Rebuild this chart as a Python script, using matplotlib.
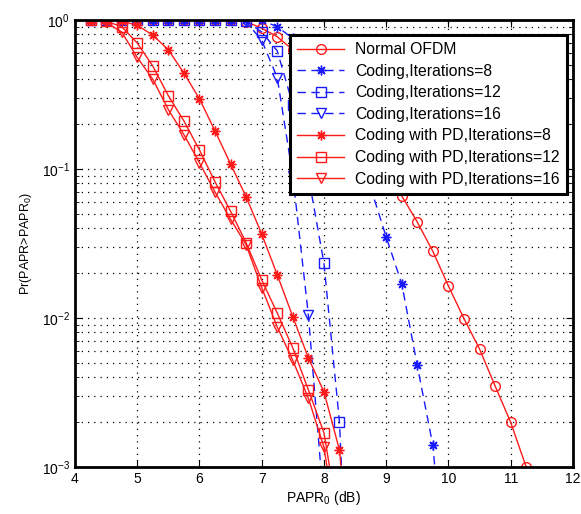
import numpy as np
import matplotlib
matplotlib.use("Agg")
import matplotlib.pyplot as plt
from matplotlib.ticker import LogLocator, NullFormatter

plt.rcParams['font.family'] = ['Liberation Sans', 'DejaVu Sans']
plt.rcParams['mathtext.fontset'] = 'custom'
plt.rcParams['mathtext.rm'] = 'Liberation Sans'

# PAPR0 grid in dB (0.25 dB steps) and CCDF values
x_normal = [4.25, 4.5, 4.75, 5.0, 5.25, 5.5, 5.75, 6.0, 6.25, 6.5, 6.75, 7.0, 7.25,
            7.5, 7.75, 8.0, 8.25, 8.5, 8.75, 9.0, 9.25, 9.5, 9.75, 10.0, 10.25,
            10.5, 10.75, 11.0, 11.25]
y_normal = [1, 1, 1, 1, 1, 1, 1, 1, 1, 0.995, 0.97, 0.88, 0.77,
            0.63, 0.48, 0.35, 0.25, 0.18, 0.13, 0.092, 0.066, 0.044, 0.028, 0.0164, 0.0099,
            0.0062, 0.0035, 0.002, 0.001]

x_c8 = [4.25, 4.5, 4.75, 5.0, 5.25, 5.5, 5.75, 6.0, 6.25, 6.5, 6.75, 7.0, 7.25,
        7.5, 7.75, 8.0, 8.25, 8.5, 8.75, 9.0, 9.25, 9.5, 9.75, 10.0]
y_c8 = [1, 1, 1, 1, 1, 1, 1, 1, 1, 1, 1, 0.99, 0.9,
        0.75, 0.55, 0.37, 0.22, 0.13, 0.075, 0.035, 0.017, 0.0048, 0.0014, 0.0001]

x_c12 = [4.25, 4.5, 4.75, 5.0, 5.25, 5.5, 5.75, 6.0, 6.25, 6.5, 6.75, 7.0, 7.25,
         7.5, 7.75, 8.0, 8.25, 8.5]
y_c12 = [1, 1, 1, 1, 1, 1, 1, 1, 1, 1, 0.98, 0.83, 0.62,
         0.27, 0.09, 0.0234, 0.002, 0.00001]

x_c16 = [4.25, 4.5, 4.75, 5.0, 5.25, 5.5, 5.75, 6.0, 6.25, 6.5, 6.75, 7.0, 7.25,
         7.5, 7.75, 8.0]
y_c16 = [1, 1, 1, 1, 1, 1, 1, 1, 1, 1, 0.97, 0.73, 0.41,
         0.09, 0.0105, 0.00055]

x_pd8 = [4.25, 4.5, 4.75, 5.0, 5.25, 5.5, 5.75, 6.0, 6.25, 6.5, 6.75, 7.0, 7.25,
         7.5, 7.75, 8.0, 8.25, 8.5]
y_pd8 = [1, 1, 0.98, 0.92, 0.79, 0.63, 0.44, 0.295, 0.18, 0.108, 0.065, 0.0366, 0.0195,
         0.0102, 0.0054, 0.0032, 0.0013, 0.0001]

x_pd12 = [4.25, 4.5, 4.75, 5.0, 5.25, 5.5, 5.75, 6.0, 6.25, 6.5, 6.75, 7.0, 7.25,
          7.5, 7.75, 8.0, 8.25]
y_pd12 = [1, 0.98, 0.9, 0.70, 0.49, 0.31, 0.21, 0.134, 0.082, 0.052, 0.032, 0.018, 0.0108,
          0.0063, 0.0033, 0.0017, 0.0004]

x_pd16 = [4.25, 4.5, 4.75, 5.0, 5.25, 5.5, 5.75, 6.0, 6.25, 6.5, 6.75, 7.0, 7.25,
          7.5, 7.75, 8.0, 8.25]
y_pd16 = [1, 0.96, 0.83, 0.56, 0.40, 0.25, 0.17, 0.11, 0.07, 0.046, 0.031, 0.016, 0.0087,
          0.0052, 0.0029, 0.00136, 0.0003]

labels = ['Normal OFDM', 'Coding,Iterations=8', 'Coding,Iterations=12',
          'Coding,Iterations=16', 'Coding with PD,Iterations=8',
          'Coding with PD,Iterations=12', 'Coding with PD,Iterations=16']

red = '#ff1a1a'
blue = '#1a1aff'
asterisk = (8, 2, 0)  # matlab-style '*' (plus + cross)

fig = plt.figure(figsize=(5.81, 5.14), dpi=100)
ax = fig.add_axes([0.129, 0.0914, 0.857, 0.870])

mk = dict(markerfacecolor='none', markersize=7, markeredgewidth=1.0)
ax.semilogy(x_normal, y_normal, '-', color=red, marker='o', lw=1.0, label=labels[0], **mk)
ax.semilogy(x_c8, y_c8, '--', color=blue, marker=asterisk, lw=1.0, dashes=(6, 4), label=labels[1], **mk)
ax.semilogy(x_c12, y_c12, '--', color=blue, marker='s', lw=1.0, dashes=(6, 4), label=labels[2], **mk)
ax.semilogy(x_c16, y_c16, '--', color=blue, marker='v', lw=1.0, dashes=(6, 4), label=labels[3], **mk)
ax.semilogy(x_pd8, y_pd8, '-', color=red, marker=asterisk, lw=1.0, label=labels[4], **mk)
ax.semilogy(x_pd12, y_pd12, '-', color=red, marker='s', lw=1.0, label=labels[5], **mk)
ax.semilogy(x_pd16, y_pd16, '-', color=red, marker='v', lw=1.0, label=labels[6], **mk)

ax.set_xlim(4, 12)
ax.set_ylim(1e-3, 1)
ax.set_xticks(np.arange(4, 13, 1))
ax.yaxis.set_major_locator(LogLocator(base=10, numticks=10))
ax.yaxis.set_minor_locator(LogLocator(base=10, subs=np.arange(2, 10), numticks=10))
ax.yaxis.set_minor_formatter(NullFormatter())

ax.grid(True, which='major', axis='both', color='black', linestyle=(0, (1, 4)), lw=0.9)
ax.grid(True, which='minor', axis='y', color='black', linestyle=(0, (1, 4)), lw=0.9)
ax.tick_params(which='both', direction='in', top=True, right=True, labelsize=10)
ax.tick_params(which='major', length=5)
ax.tick_params(which='minor', length=3)
for s in ax.spines.values():
    s.set_linewidth(2.0)

ax.set_xlabel('PAPR$_0$ (dB)', fontsize=10, labelpad=2)
ax.set_ylabel('Pr(PAPR>PAPR$_0$)', fontsize=9, labelpad=6)

leg = ax.legend(loc='upper right', bbox_to_anchor=(0.988, 0.966), fontsize=11.3,
                fancybox=False, framealpha=1, edgecolor='black',
                handlelength=3.0, borderpad=0.45, labelspacing=0.42,
                handletextpad=0.7, borderaxespad=0.0)
leg.get_frame().set_linewidth(2.2)

fig.savefig('out.png', dpi=100)
